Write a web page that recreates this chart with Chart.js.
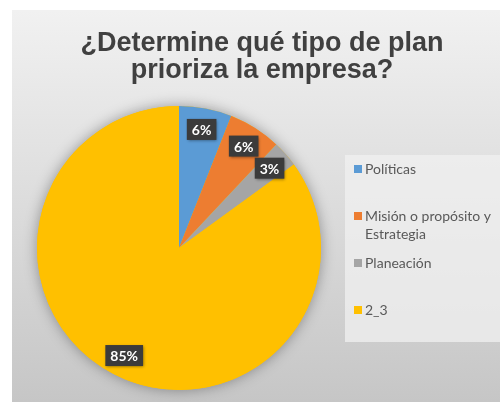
<!DOCTYPE html>
<html>
<head>
<meta charset="utf-8">
<script src="https://cdn.jsdelivr.net/npm/chart.js@4"></script>
<style>
html,body{margin:0;padding:0;background:#fff;}
#wrap{width:500px;height:402px;position:relative;}
</style>
</head>
<body>
<div id="wrap"><canvas id="c" width="500" height="402"></canvas></div>
<script>
const titleLines = ['¿Determine qué tipo de plan', 'prioriza la empresa?'];
const categories = ['Políticas', 'Misión o propósito y Estrategia', 'Planeación', '2_3'];
const values = [6, 6, 3, 85];
const colors = ['#5B9BD5', '#ED7D31', '#A5A5A5', '#FFC000'];

const bgPlugin = {
  id: 'bg',
  beforeDraw(chart) {
    const ctx = chart.ctx;
    ctx.save();
    ctx.fillStyle = '#ffffff';
    ctx.fillRect(0, 0, chart.width, chart.height);
    const g = ctx.createLinearGradient(0, 10, 0, chart.height);
    g.addColorStop(0, '#f1f1f1');
    g.addColorStop(0.5, '#dcdcdc');
    g.addColorStop(1, '#c6c6c6');
    ctx.fillStyle = g;
    ctx.fillRect(12, 10, chart.width - 12, chart.height - 10);
    // legend panel
    ctx.fillStyle = 'rgba(240,240,240,0.75)';
    ctx.fillRect(345, 155, chart.width - 345, 187);
    // title
    ctx.fillStyle = '#404040';
    ctx.font = 'bold 27px "Liberation Sans", Arial, sans-serif';
    ctx.textAlign = 'center';
    ctx.textBaseline = 'alphabetic';
    titleLines.forEach((t, i) => ctx.fillText(t, 262, 51 + i * 27));
    ctx.restore();
  },
  beforeDatasetsDraw(chart) {
    const arc = chart.getDatasetMeta(0).data[0];
    if (!arc) return;
    const ctx = chart.ctx;
    ctx.save();
    ctx.shadowColor = 'rgba(0,0,0,0.35)';
    ctx.shadowBlur = 14;
    ctx.fillStyle = colors[3];
    ctx.beginPath();
    ctx.arc(arc.x, arc.y, arc.outerRadius, 0, Math.PI * 2);
    ctx.fill();
    ctx.restore();
  },
  afterDatasetsDraw(chart) {
    const ctx = chart.ctx;
    const meta = chart.getDatasetMeta(0);
    const total = values.reduce((a, b) => a + b, 0);
    ctx.save();
    ctx.font = 'bold 14px Lato, "Open Sans", sans-serif';
    ctx.textAlign = 'center';
    ctx.textBaseline = 'middle';
    meta.data.forEach((el, i) => {
      const mid = (el.startAngle + el.endAngle) / 2;
      const r = el.outerRadius * 0.85;
      const x = el.x + Math.cos(mid) * r;
      const y = el.y + Math.sin(mid) * r;
      const txt = Math.round(values[i] / total * 100) + '%';
      const w = ctx.measureText(txt).width + 10;
      const h = 21;
      ctx.save();
      ctx.shadowColor = 'rgba(0,0,0,0.45)';
      ctx.shadowBlur = 3;
      ctx.shadowOffsetX = 1;
      ctx.shadowOffsetY = 1;
      ctx.fillStyle = '#3b3b3b';
      ctx.fillRect(x - w / 2, y - h / 2, w, h);
      ctx.restore();
      ctx.fillStyle = '#ffffff';
      ctx.fillText(txt, x, y + 1);
    });
    // legend
    ctx.font = '14px Lato, "Open Sans", sans-serif';
    ctx.textAlign = 'left';
    ctx.textBaseline = 'middle';
    categories.forEach((cat, i) => {
      const y0 = 169 + i * 47;
      ctx.fillStyle = colors[i];
      ctx.fillRect(354, y0 - 4, 8, 8);
      ctx.fillStyle = '#595959';
      const words = cat.split(' ');
      const lines = [];
      let cur = '';
      words.forEach(wd => {
        const test = cur ? cur + ' ' + wd : wd;
        if (ctx.measureText(test).width > 132 && cur) { lines.push(cur); cur = wd; }
        else cur = test;
      });
      if (cur) lines.push(cur);
      lines.forEach((ln, j) => ctx.fillText(ln, 365, y0 + j * 18));
    });
    ctx.restore();
  }
};

new Chart(document.getElementById('c'), {
  type: 'pie',
  data: {
    labels: categories,
    datasets: [{
      data: values,
      backgroundColor: colors,
      borderWidth: 0
    }]
  },
  options: {
    responsive: false,
    animation: false,
    layout: { padding: { left: 37, right: 179, top: 106, bottom: 12 } },
    plugins: {
      legend: { display: false },
      title: { display: false },
      tooltip: { enabled: false }
    }
  },
  plugins: [bgPlugin]
});
</script>
</body>
</html>
